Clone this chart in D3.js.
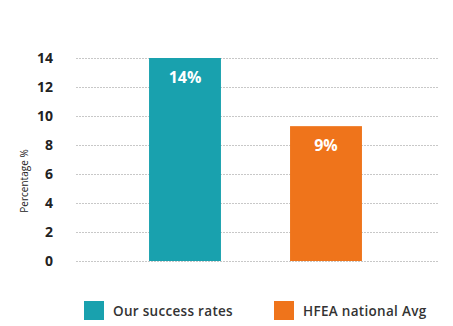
<!DOCTYPE html>
<html><head><meta charset="utf-8">
<script src="https://cdn.jsdelivr.net/npm/d3@7"></script>
<style>body{margin:0;background:#fff}svg{display:block}text{font-family:"Open Sans",Lato,sans-serif}</style>
</head><body><svg id="c" width="453" height="326"></svg>
<script>
const categories = ["Our success rates", "HFEA national Avg"];
const values = [14, 9.3];
const valueLabels = ["14%", "9%"];
const colors = ["#19a1ae", "#ef741b"];
const yTicks = [0, 2, 4, 6, 8, 10, 12, 14];
const yTitle = "Percentage %";

const svg = d3.select("#c");
const y = d3.scaleLinear().domain([0, 14]).range([261, 58]);
const x = d3.scaleBand().domain(categories).range([114.5, 396.5]).paddingInner(0.49).paddingOuter(0.245);

// gridlines
svg.append("g").selectAll("line").data(yTicks).join("line")
  .attr("x1", 76).attr("x2", 439)
  .attr("y1", d => Math.round(y(d)) + 0.5).attr("y2", d => Math.round(y(d)) + 0.5)
  .attr("stroke", "#c8c8c8").attr("stroke-width", 1).attr("stroke-dasharray", "2,1");

// y axis labels
const yAxis = d3.axisLeft(y).tickValues(yTicks).tickSize(0).tickPadding(0);
const ga = svg.append("g").attr("transform", "translate(53,0)").call(yAxis);
ga.select(".domain").remove();
ga.selectAll("text").attr("font-size", 14).attr("font-weight", 700).attr("fill", "#222")
  .attr("font-family", "'Open Sans', sans-serif");

svg.append("text").attr("transform", "translate(28,181) rotate(-90)")
  .attr("text-anchor", "middle").attr("font-size", 10).attr("fill", "#222").text(yTitle);

// bars
svg.append("g").selectAll("rect").data(categories).join("rect")
  .attr("x", d => x(d)).attr("width", x.bandwidth())
  .attr("y", (d, i) => y(values[i])).attr("height", (d, i) => y(0) - y(values[i]))
  .attr("fill", (d, i) => colors[i]);

svg.append("g").selectAll("text").data(categories).join("text")
  .attr("x", d => x(d) + x.bandwidth() / 2)
  .attr("y", (d, i) => y(values[i]) + 25)
  .attr("text-anchor", "middle").attr("font-size", 16).attr("font-weight", 700)
  .attr("fill", "#fff").text((d, i) => valueLabels[i]);

// legend
const legX = [84, 274];
const lg = svg.append("g").selectAll("g").data(categories).join("g")
  .attr("transform", (d, i) => `translate(${legX[i]},301)`);
lg.append("rect").attr("width", 20).attr("height", 19).attr("fill", (d, i) => colors[i]);
lg.append("text").attr("x", 29).attr("y", 15).attr("font-size", 13.5).attr("font-weight", 600)
  .attr("letter-spacing", 0.3).attr("fill", "#333").text(d => d);
</script></body></html>
